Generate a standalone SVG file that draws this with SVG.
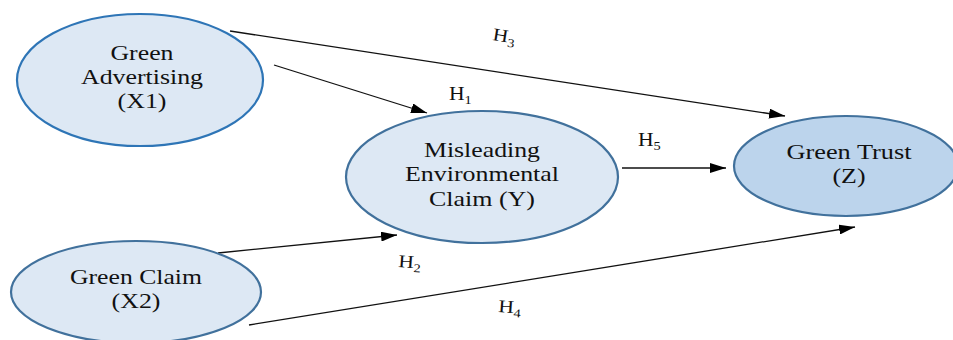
<svg xmlns="http://www.w3.org/2000/svg" width="953" height="340" viewBox="0 0 953 340">
  <style>
    .node { fill: #dde8f4; stroke: #41719c; stroke-width: 2.2; }
    .node-z { fill: #bcd4ec; stroke: #41719c; stroke-width: 2.2; }
    .lbl { font-family: "Liberation Serif", "Times New Roman", serif; font-size: 21px; fill: #111; text-anchor: middle; }
    .hyp { font-family: "Liberation Serif", "Times New Roman", serif; font-size: 18px; fill: #111; }
    .sub { font-size: 12px; }
    .edge { stroke: #111; stroke-width: 1.3; fill: none; marker-end: url(#arrow); }
  </style>
  <defs>
    <marker id="arrow" viewBox="0 0 16 10" refX="16" refY="5" markerWidth="16" markerHeight="10" markerUnits="userSpaceOnUse" orient="auto">
      <path d="M0,0 L16,5 L0,10 Z" fill="#000"/>
    </marker>
  </defs>
  <rect width="953" height="340" fill="#fff"/>

  <g id="connectors">
    <line class="edge" x1="230" y1="31" x2="785" y2="116"/>
    <line class="edge" x1="274" y1="65" x2="427" y2="113"/>
    <line class="edge" x1="622" y1="168" x2="726" y2="168"/>
    <line class="edge" x1="218" y1="253" x2="397" y2="235"/>
    <line class="edge" x1="249" y1="325" x2="855" y2="227"/>
  </g>

  <!-- hypothesis labels, widened to the same proportions as the node text -->
  <g id="hypotheses">
    <text class="hyp" transform="translate(492,40) rotate(9) scale(1.2,1)">H<tspan class="sub" dy="4">3</tspan></text>
    <text class="hyp" transform="translate(449,100) scale(1.2,1)">H<tspan class="sub" dy="4">1</tspan></text>
    <text class="hyp" transform="translate(638,146) scale(1.2,1)">H<tspan class="sub" dy="4">5</tspan></text>
    <text class="hyp" transform="translate(398,267) rotate(4) scale(1.2,1)">H<tspan class="sub" dy="4">2</tspan></text>
    <text class="hyp" transform="translate(498,312) rotate(4) scale(1.2,1)">H<tspan class="sub" dy="4">4</tspan></text>
  </g>

  <g id="node-x1">
    <ellipse class="node" cx="140" cy="80" rx="123" ry="66" style="stroke:#2e75b6"/>
    <text class="lbl" x="142" y="60" textLength="63" lengthAdjust="spacingAndGlyphs">Green</text>
    <text class="lbl" x="142" y="84" textLength="122" lengthAdjust="spacingAndGlyphs">Advertising</text>
    <text class="lbl" x="142" y="108" textLength="49" lengthAdjust="spacingAndGlyphs">(X1)</text>
  </g>

  <g id="node-y">
    <ellipse class="node" cx="482" cy="177" rx="136" ry="66"/>
    <text class="lbl" x="482" y="157" textLength="116" lengthAdjust="spacingAndGlyphs">Misleading</text>
    <text class="lbl" x="482" y="181" textLength="154" lengthAdjust="spacingAndGlyphs">Environmental</text>
    <text class="lbl" x="482" y="206" textLength="106" lengthAdjust="spacingAndGlyphs">Claim (Y)</text>
  </g>

  <g id="node-z">
    <ellipse class="node-z" cx="846" cy="166" rx="112" ry="50"/>
    <text class="lbl" x="849" y="159" textLength="125" lengthAdjust="spacingAndGlyphs">Green Trust</text>
    <text class="lbl" x="849" y="183" textLength="33" lengthAdjust="spacingAndGlyphs">(Z)</text>
  </g>

  <g id="node-x2">
    <ellipse class="node" cx="136" cy="292" rx="125" ry="51"/>
    <text class="lbl" x="136" y="284" textLength="132" lengthAdjust="spacingAndGlyphs">Green Claim</text>
    <text class="lbl" x="136" y="308" textLength="49" lengthAdjust="spacingAndGlyphs">(X2)</text>
  </g>
</svg>
